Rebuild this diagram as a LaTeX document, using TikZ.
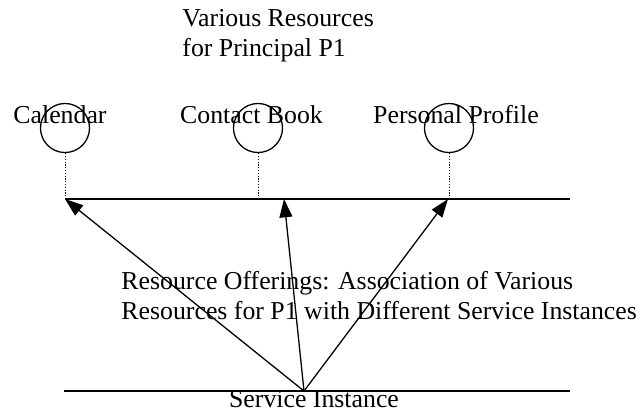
\documentclass[tikz,border=0pt]{standalone}
\usepackage{fontspec}
\setmainfont{Liberation Serif}
\usetikzlibrary{arrows.meta}

\begin{document}
\begin{tikzpicture}[x=0.465pt,y=-0.465pt,
    every node/.style={inner sep=0pt,font=\fontsize{12}{13.8}\selectfont},
    res/.style={draw,circle,line width=0.6pt,minimum size=22.8pt},
    link/.style={line width=0.45pt,dash pattern=on 0.6pt off 0.7pt},
    offer/.style={line width=0.6pt,-{Triangle[length=8.5pt,width=6pt]}}]
  \useasboundingbox (0,0) rectangle (642,413);
  \node[anchor=base west,align=left] (title) at (182,56) {Various Resources\\for Principal P1};
  \coordinate (top L) at (65,199);
  \coordinate (top R) at (570,199);
  \coordinate (bot L) at (64,391);
  \coordinate (bot R) at (570,391);
  \coordinate (si) at (304,391);
  \draw[line width=0.6pt] (top L) -- (top R);
  \draw[line width=0.6pt] (bot L) -- (bot R);
  \foreach \i/\x/\lx/\tx/\ax in {1/65/60/Calendar/65, 2/258/251.5/Contact Book/284, 3/449/456/Personal Profile/448}{
    \node[anchor=base] (L \i) at (\lx,123) {\tx};
    \node[res] (R \i) at (\x,128) {};
    \coordinate (F \i) at (\x,199);
    \coordinate (A \i) at (\ax,199);
    \draw[link] (R \i) -- (F \i);
    \draw[offer] (si) -- (A \i);
  }
  \node[anchor=base west,align=left] (offers) at (121,319) {Resource Offerings: Association of Various\\Resources for P1 with Different Service Instances};
  \node[anchor=base] (inst) at (314,407) {Service Instance};
\end{tikzpicture}
\end{document}
